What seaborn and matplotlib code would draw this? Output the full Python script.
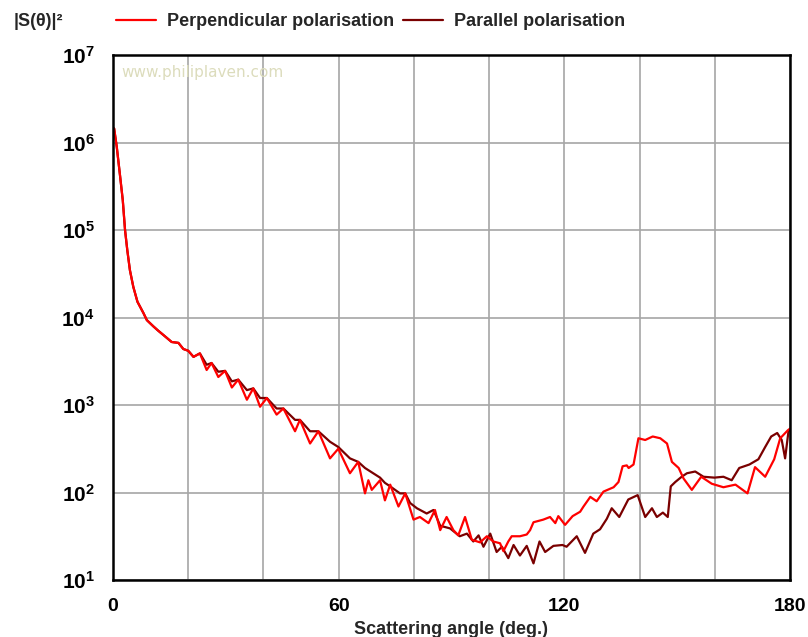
import matplotlib
matplotlib.use("Agg")
import matplotlib.pyplot as plt
import seaborn as sns
import numpy as np
import pandas as pd
from matplotlib.ticker import FixedLocator, FuncFormatter
from matplotlib.lines import Line2D

# ---- data (log10 of |S|^2) ----
perp_angle = [0.3, 1.0, 1.9, 2.6, 3.2, 3.8, 4.5, 5.4, 6.5, 8.1, 9.0, 10.7, 12.0, 13.4, 15.6,
              17.4, 18.7, 20.0, 21.4, 23.1, 24.9, 26.2, 28.0, 29.8, 31.6, 33.3, 35.6, 37.3,
              39.1, 40.9, 43.5, 45.3, 48.4, 49.7, 52.4, 54.6, 57.7, 59.9, 63.0, 65.2, 67.0,
              67.9, 68.8, 71.0, 72.3, 73.7, 75.9, 77.7, 79.9, 81.6, 83.9, 85.6, 87.0, 88.7,
              90.5, 91.8, 93.6, 95.4, 97.6, 99.4, 101.1, 102.9, 103.8, 105.1, 106.0, 108.2,
              110.0, 110.9, 111.8, 114.4, 116.2, 117.6, 118.4, 120.2, 122.2, 124.2, 125.1,
              126.9, 128.6, 130.4, 133.1, 134.4, 135.5, 136.6, 137.1, 138.4, 139.7, 141.5,
              143.5, 145.5, 147.3, 148.6, 150.4, 151.7, 153.9, 156.4, 159.2, 162.3, 165.5,
              168.7, 170.7, 173.4, 175.8, 177.4, 179.4, 180.0]
perp_log10 = [6.16, 5.95, 5.61, 5.34, 5.00, 4.77, 4.54, 4.35, 4.18, 4.05, 3.97, 3.90, 3.85,
              3.80, 3.72, 3.71, 3.64, 3.62, 3.55, 3.59, 3.40, 3.48, 3.32, 3.39, 3.20, 3.29,
              3.06, 3.19, 2.98, 3.08, 2.89, 2.96, 2.70, 2.83, 2.56, 2.70, 2.39, 2.50, 2.22,
              2.35, 1.99, 2.14, 2.03, 2.14, 1.91, 2.09, 1.84, 1.99, 1.69, 1.72, 1.65, 1.80,
              1.57, 1.72, 1.57, 1.51, 1.72, 1.46, 1.43, 1.50, 1.44, 1.42, 1.33, 1.44, 1.50,
              1.50, 1.52, 1.57, 1.66, 1.69, 1.72, 1.65, 1.73, 1.63, 1.73, 1.78, 1.84, 1.95,
              1.90, 2.01, 2.06, 2.12, 2.30, 2.31, 2.28, 2.32, 2.62, 2.60, 2.64, 2.62, 2.56,
              2.35, 2.28, 2.16, 2.03, 2.18, 2.10, 2.06, 2.09, 1.99, 2.29, 2.18, 2.38, 2.62,
              2.71, 2.73]

par_angle = [0.3, 1.0, 1.9, 2.6, 3.2, 3.8, 4.5, 5.4, 6.5, 8.1, 9.0, 10.7, 12.0, 13.4, 15.6,
             17.4, 18.7, 20.0, 21.4, 23.1, 24.9, 26.2, 28.0, 29.8, 31.6, 33.3, 35.6, 37.3,
             39.1, 40.9, 43.5, 45.3, 48.4, 49.7, 52.4, 54.6, 57.7, 59.9, 63.0, 65.2, 67.0,
             71.0, 72.3, 73.7, 76.3, 77.7, 79.0, 80.8, 83.4, 85.2, 87.0, 89.6, 92.2, 94.1,
             95.8, 97.2, 98.5, 100.3, 102.0, 103.4, 105.1, 106.5, 108.2, 110.0, 111.8,
             113.4, 114.9, 117.1, 119.5, 120.6, 123.3, 125.5, 127.7, 129.5, 131.3, 132.6,
             134.6, 137.0, 139.5, 141.5, 143.3, 144.6, 146.2, 147.5, 148.3, 149.5, 151.2,
             152.6, 154.8, 157.0, 159.9, 162.3, 164.5, 166.5, 169.2, 171.6, 173.4, 175.0,
             176.6, 177.8, 178.7, 179.6, 180.0]
par_log10 = [6.16, 5.95, 5.61, 5.34, 5.00, 4.77, 4.54, 4.35, 4.18, 4.05, 3.97, 3.90, 3.85,
             3.80, 3.72, 3.71, 3.64, 3.62, 3.55, 3.59, 3.46, 3.48, 3.38, 3.39, 3.27, 3.29,
             3.17, 3.19, 3.08, 3.08, 2.96, 2.96, 2.83, 2.83, 2.70, 2.70, 2.58, 2.52, 2.39,
             2.35, 2.28, 2.17, 2.11, 2.07, 1.99, 1.99, 1.88, 1.82, 1.76, 1.80, 1.62, 1.59,
             1.50, 1.53, 1.44, 1.51, 1.38, 1.53, 1.32, 1.38, 1.25, 1.40, 1.28, 1.39, 1.19,
             1.44, 1.32, 1.39, 1.40, 1.38, 1.50, 1.31, 1.53, 1.58, 1.70, 1.82, 1.72, 1.92,
             1.97, 1.72, 1.82, 1.72, 1.77, 1.72, 2.07, 2.12, 2.18, 2.22, 2.24, 2.18, 2.17,
             2.18, 2.14, 2.28, 2.32, 2.38, 2.52, 2.64, 2.68, 2.60, 2.39, 2.70, 2.72]

x_ticks = [0, 20, 40, 60, 80, 100, 120, 140, 160, 180]
x_ticklabels = ["0", "", "", "60", "", "", "120", "", "", "180"]
y_exponents = [1, 2, 3, 4, 5, 6, 7]

series_names = ["Perpendicular polarisation", "Parallel polarisation"]

# ---- build frame ----
df = pd.concat([
    pd.DataFrame({"angle": perp_angle, "I": np.power(10.0, perp_log10), "pol": series_names[0]}),
    pd.DataFrame({"angle": par_angle, "I": np.power(10.0, par_log10), "pol": series_names[1]}),
])

sns.set_style("white")
FONT = ["Liberation Sans", "DejaVu Sans"]
plt.rcParams["font.family"] = FONT
plt.rcParams["font.weight"] = "bold"
plt.rcParams["mathtext.fontset"] = "custom"
plt.rcParams["mathtext.rm"] = "Liberation Sans:bold"
plt.rcParams["mathtext.bf"] = "Liberation Sans:bold"
plt.rcParams["mathtext.it"] = "Liberation Sans:bold"

W, H = 808, 637
fig = plt.figure(figsize=(W / 100, H / 100), dpi=100)
ax = fig.add_axes([113 / W, 1 - 580 / H, (790 - 113) / W, (580 - 55) / H])

colors = {series_names[0]: "#ff0000", series_names[1]: "#7a0000"}
LW = 1.6
sns.lineplot(data=df[df.pol == series_names[1]], x="angle", y="I", color=colors[series_names[1]],
             lw=LW, ax=ax, estimator=None, sort=True, legend=False)
sns.lineplot(data=df[df.pol == series_names[0]], x="angle", y="I", color=colors[series_names[0]],
             lw=LW, ax=ax, estimator=None, sort=True, legend=False)

ax.set_yscale("log")
ax.set_xlim(0, 180)
ax.set_ylim(10 ** y_exponents[0], 10 ** y_exponents[-1])
ax.xaxis.set_major_locator(FixedLocator(x_ticks))
ax.set_xticklabels(x_ticklabels)
ax.yaxis.set_major_locator(FixedLocator([10.0 ** e for e in y_exponents]))
ax.yaxis.set_minor_locator(FixedLocator([]))
ax.yaxis.set_major_formatter(FuncFormatter(lambda v, p: r"$\mathbf{10^{%d}}$" % round(np.log10(v))))

ax.grid(True, which="major", color="#a6a6a6", lw=1.2)
ax.set_axisbelow(True)
for s in ax.spines.values():
    s.set_color("black")
    s.set_linewidth(1.8)
ax.tick_params(axis="x", direction="out", length=5, width=1.2, colors="black",
               labelsize=14, pad=8)
ax.tick_params(axis="y", direction="out", length=9, width=1.8, colors="black",
               labelsize=15, pad=4)
for lab in ax.get_xticklabels():
    lab.set_fontweight("bold")

ax.set_xlabel("Scattering angle (deg.)", fontsize=13, fontweight="bold", labelpad=4)
ax.set_ylabel("")

# watermark
ax.text(8 / 677, 1 - 18 / 525, "www.philiplaven.com", transform=ax.transAxes,
        color="#dcdcbc", fontsize=11, fontweight="normal", family=["DejaVu Sans"],
        va="center", ha="left")

# y quantity label at top left
fig.text(14 / W, 1 - 22 / H, "|S(θ)|²", fontsize=13, fontweight="bold", va="center",
         ha="left", family=FONT)

handles = [Line2D([], [], color=colors[n], lw=LW) for n in series_names]
fig.legend(handles, series_names, loc="center left", bbox_to_anchor=(100 / W, 1 - 22 / H),
           ncol=2, frameon=False, handlelength=2.2, handletextpad=0.6,
           columnspacing=0.5, prop={"family": FONT, "weight": "bold", "size": 13})

fig.savefig("out.png", dpi=100)
